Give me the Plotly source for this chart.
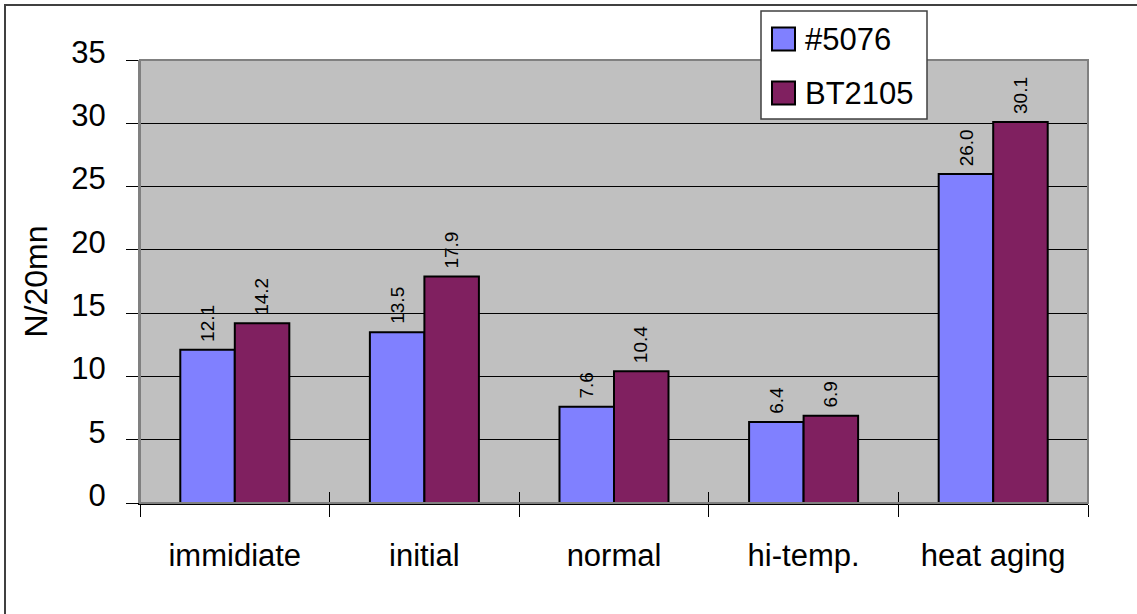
import plotly.graph_objects as go

categories = ["immidiate", "initial", "normal", "hi-temp.", "heat aging"]
series_names = ["#5076", "BT2105"]
values_5076 = [12.1, 13.5, 7.6, 6.4, 26.0]
values_bt2105 = [14.2, 17.9, 10.4, 6.9, 30.1]
colors = ["#8080FF", "#802060"]
y_ticks = [0, 5, 10, 15, 20, 25, 30, 35]

W, H = 1137, 614
ML, MR, MT, MB = 140, 49, 60, 111
PW, PH = W - ML - MR, H - MT - MB
BARGAP = 0.425
FONT = "Liberation Sans, Arial, sans-serif"
FS = 31


def px_x(p):
    return (p - ML) / PW


def px_y(p):
    return (H - MB - p) / PH


fig = go.Figure()
for name, vals, col in zip(series_names, [values_5076, values_bt2105], colors):
    fig.add_trace(go.Bar(
        x=categories, y=vals, name=name,
        marker=dict(color=col, line=dict(color="black", width=2)),
        showlegend=False, hoverinfo="x+y",
    ))

# invisible helper trace for the inside half of the crossing category ticks
fig.add_trace(go.Scatter(x=categories, y=values_5076, xaxis="x2", mode="markers",
                         marker=dict(opacity=0), showlegend=False, hoverinfo="skip"))

bar_w = PW / len(categories) * (1 - BARGAP) / 2
annotations = []
for si, vals in enumerate([values_5076, values_bt2105]):
    shift = (-0.5 if si == 0 else 0.5) * bar_w
    for c, v in zip(categories, vals):
        annotations.append(dict(
            x=c, y=v, xref="x", yref="y", text=f"{v:.1f}", showarrow=False,
            textangle=-90, xanchor="center", yanchor="bottom", xshift=shift, yshift=6,
            font=dict(family=FONT, size=19, color="black"),
        ))

shapes = [
    # outer chart border
    dict(type="rect", xref="paper", yref="paper", x0=px_x(5), x1=px_x(1145),
         y0=px_y(625), y1=px_y(5), line=dict(color="#404040", width=2), layer="below"),
    # plot area frame
    dict(type="rect", xref="paper", yref="paper", x0=0, x1=1, y0=0, y1=1,
         line=dict(color="#808080", width=2)),
    # legend box
    dict(type="rect", xref="paper", yref="paper", x0=px_x(761), x1=px_x(927),
         y0=px_y(119), y1=px_y(11), line=dict(color="#404040", width=1.5),
         fillcolor="white", layer="above"),
]
legend_rows = [39, 93]
for name, col, cy in zip(series_names, colors, legend_rows):
    shapes.append(dict(type="rect", xref="paper", yref="paper",
                       x0=px_x(772), x1=px_x(795), y0=px_y(cy + 11.5), y1=px_y(cy - 11.5),
                       fillcolor=col, line=dict(color="black", width=2), layer="above"))
    annotations.append(dict(x=px_x(803), y=px_y(cy), xref="paper", yref="paper",
                            text=name, showarrow=False, xanchor="left", yanchor="middle",
                            font=dict(family=FONT, size=FS, color="black")))

fig.update_layout(
    width=W, height=H,
    margin=dict(l=ML, r=MR, t=MT, b=MB, autoexpand=False),
    paper_bgcolor="white", plot_bgcolor="#C0C0C0",
    barmode="group", bargap=BARGAP, bargroupgap=0,
    font=dict(family=FONT, size=FS, color="black"),
    showlegend=False,
    xaxis=dict(
        type="category", categoryorder="array", categoryarray=categories,
        range=[-0.5, len(categories) - 0.5],
        showline=True, linecolor="black", linewidth=1.5,
        ticks="outside", tickson="boundaries", ticklen=12, tickcolor="black", tickwidth=1,
        ticklabelstandoff=24, showgrid=False, zeroline=False,
        tickfont=dict(family=FONT, size=FS, color="black"),
    ),
    xaxis2=dict(
        type="category", categoryorder="array", categoryarray=categories,
        range=[-0.5, len(categories) - 0.5], overlaying="x", matches="x",
        ticks="inside", tickson="boundaries", ticklen=11, tickcolor="black", tickwidth=1,
        showticklabels=False, showgrid=False, showline=False, zeroline=False,
    ),
    yaxis=dict(
        range=[0, 35], tickvals=y_ticks,
        showgrid=True, gridcolor="black", gridwidth=1,
        showline=True, linecolor="#808080", linewidth=2,
        ticks="outside", ticklen=12, tickcolor="black", tickwidth=1,
        ticklabelstandoff=14, ticklabelshift=-8, zeroline=False,
        tickfont=dict(family=FONT, size=FS, color="black"),
        title=dict(text="N/20mn", standoff=14, font=dict(family=FONT, size=32, color="black")),
    ),
    shapes=shapes,
    annotations=annotations,
)

fig.write_html(
    "out.html",
    config={"displayModeBar": False},
    post_script="document.body.style.margin='0';document.body.style.overflow='hidden';",
)
